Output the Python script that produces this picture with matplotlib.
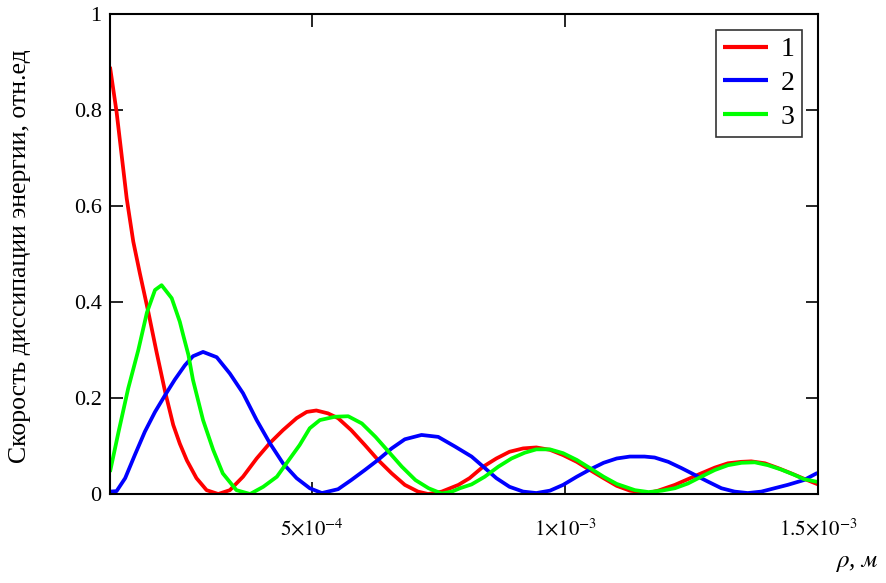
import matplotlib
matplotlib.use("Agg")
import matplotlib.pyplot as plt
import numpy as np

plt.rcParams['font.family'] = ['Liberation Serif', 'DejaVu Serif']
plt.rcParams['mathtext.fontset'] = 'stix'

# x positions in units of 1e-4 m, values in relative units
red_x = [1.00, 1.13, 1.23, 1.33, 1.46, 1.59, 1.76, 1.92, 2.09, 2.25, 2.38, 2.52, 2.71,
         2.91, 3.14, 3.37, 3.63, 3.90, 4.16, 4.42, 4.69, 4.89, 5.08, 5.31, 5.51, 5.77,
         6.04, 6.30, 6.57, 6.83, 7.09, 7.29, 7.56, 7.89, 8.11, 8.38, 8.64, 8.90, 9.17,
         9.43, 9.70, 9.96, 10.23, 10.49, 10.76, 11.02, 11.28, 11.64, 11.84, 12.17, 12.43,
         12.69, 12.96, 13.22, 13.48, 13.68, 13.95, 14.21, 14.47, 14.74, 15.00]
red_y = [0.890, 0.796, 0.706, 0.616, 0.526, 0.460, 0.378, 0.296, 0.213, 0.144, 0.105, 0.070, 0.033,
         0.008, 0.000, 0.008, 0.036, 0.074, 0.106, 0.133, 0.158, 0.171, 0.174, 0.168, 0.158, 0.133,
         0.102, 0.071, 0.043, 0.019, 0.005, 0.000, 0.005, 0.019, 0.033, 0.057, 0.074, 0.088, 0.095,
         0.097, 0.092, 0.081, 0.067, 0.050, 0.033, 0.017, 0.007, 0.002, 0.007, 0.019, 0.031,
         0.043, 0.055, 0.064, 0.067, 0.068, 0.064, 0.054, 0.043, 0.031, 0.020]

blue_x = [1.00, 1.13, 1.30, 1.49, 1.69, 1.89, 2.09, 2.28, 2.48, 2.64, 2.84, 3.11, 3.37,
          3.63, 3.90, 4.16, 4.42, 4.69, 4.95, 5.19, 5.51, 5.77, 6.04, 6.30, 6.57, 6.83,
          7.16, 7.49, 7.82, 8.15, 8.38, 8.64, 8.90, 9.17, 9.43, 9.70, 9.96, 10.23, 10.49,
          10.76, 11.02, 11.28, 11.57, 11.77, 12.04, 12.30, 12.56, 12.82, 13.09, 13.35,
          13.61, 13.88, 14.14, 14.40, 14.72, 14.99]
blue_y = [0.005, 0.006, 0.033, 0.081, 0.130, 0.171, 0.206, 0.238, 0.268, 0.287, 0.296, 0.285, 0.251,
          0.210, 0.154, 0.106, 0.064, 0.033, 0.012, 0.002, 0.010, 0.029, 0.050, 0.071, 0.095, 0.114,
          0.123, 0.119, 0.099, 0.078, 0.057, 0.033, 0.015, 0.005, 0.002, 0.007, 0.019, 0.036, 0.051,
          0.065, 0.074, 0.078, 0.078, 0.076, 0.067, 0.054, 0.040, 0.026, 0.012, 0.005,
          0.002, 0.005, 0.012, 0.019, 0.029, 0.044]

green_x = [1.00, 1.17, 1.36, 1.56, 1.73, 1.89, 2.02, 2.22, 2.38, 2.45, 2.55, 2.64, 2.84,
           3.04, 3.23, 3.50, 3.77, 4.03, 4.30, 4.49, 4.75, 4.95, 5.15, 5.45, 5.71, 5.98,
           6.25, 6.51, 6.77, 7.04, 7.30, 7.56, 7.76, 7.92, 8.15, 8.41, 8.68, 8.94, 9.20, 9.43,
           9.70, 9.96, 10.23, 10.49, 10.76, 11.02, 11.38, 11.65, 11.91, 12.17, 12.43, 12.69,
           12.96, 13.22, 13.49, 13.75, 14.01, 14.27, 14.53, 14.72, 15.00]
green_y = [0.046, 0.130, 0.220, 0.300, 0.378, 0.425, 0.435, 0.408, 0.359, 0.330, 0.290, 0.238, 0.154,
           0.092, 0.043, 0.008, 0.000, 0.015, 0.036, 0.064, 0.102, 0.137, 0.154, 0.161, 0.162, 0.147,
           0.119, 0.088, 0.057, 0.029, 0.012, 0.001, 0.005, 0.012, 0.020, 0.036, 0.057, 0.074, 0.086, 0.093,
           0.093, 0.085, 0.071, 0.054, 0.036, 0.021, 0.008, 0.004, 0.007, 0.012, 0.022, 0.036,
           0.050, 0.060, 0.065, 0.066, 0.060, 0.051, 0.040, 0.031, 0.025]

labels = ['1', '2', '3']
colors = ['#ff0000', '#0000ff', '#00ff00']
xticks = [5e-4, 1e-3, 1.5e-3]
xtick_labels = [r'$5{\times}10^{-4}$', r'$1{\times}10^{-3}$', r'$1.5{\times}10^{-3}$']
yticks = [0, 0.2, 0.4, 0.6, 0.8, 1]
ytick_labels = ['0', '0.2', '0.4', '0.6', '0.8', '1']

fig = plt.figure(figsize=(8.87, 5.83), dpi=100)
ax = fig.add_axes([110/887, 89/583, 708/887, 480/583])

series = [(red_x, red_y), (blue_x, blue_y), (green_x, green_y)]
for (xs, ys), c, lab in zip(series, colors, labels):
    ax.plot(np.array(xs) * 1e-4, ys, color=c, lw=2.7, label=lab,
            solid_joinstyle='round', solid_capstyle='butt')

ax.set_xlim(1e-4, 1.5e-3)
ax.set_ylim(0, 1)
ax.set_xticks(xticks)
ax.set_xticklabels(xtick_labels, fontsize=15)
ax.set_yticks(yticks)
ax.set_yticklabels(ytick_labels, fontsize=16)
ax.tick_params(direction='in', length=9, width=1.2, top=True, right=True, pad=6)
ax.tick_params(axis='x', pad=18)
for s in ax.spines.values():
    s.set_linewidth(1.5)

ax.set_ylabel('Скорость диссипации энергии, отн.ед', fontsize=18.5, va='center')
ax.yaxis.set_label_coords(-0.127, 0.496)
fig.text(857/887, 1 - 563/583, r'$\rho$, $\mathit{м}$', fontsize=18, ha='center', va='center',
         style='italic')

leg = ax.legend(loc='upper right', bbox_to_anchor=(0.977, 0.967), fontsize=20, frameon=True,
                fancybox=False, edgecolor='black', handlelength=1.65, handletextpad=0.45,
                labelspacing=0.3, borderpad=0.25, borderaxespad=0, handleheight=0.7)
leg.get_frame().set_linewidth(1.2)
for h in leg.get_lines():
    h.set_linewidth(3.0)

fig.savefig('out.png', dpi=100)
